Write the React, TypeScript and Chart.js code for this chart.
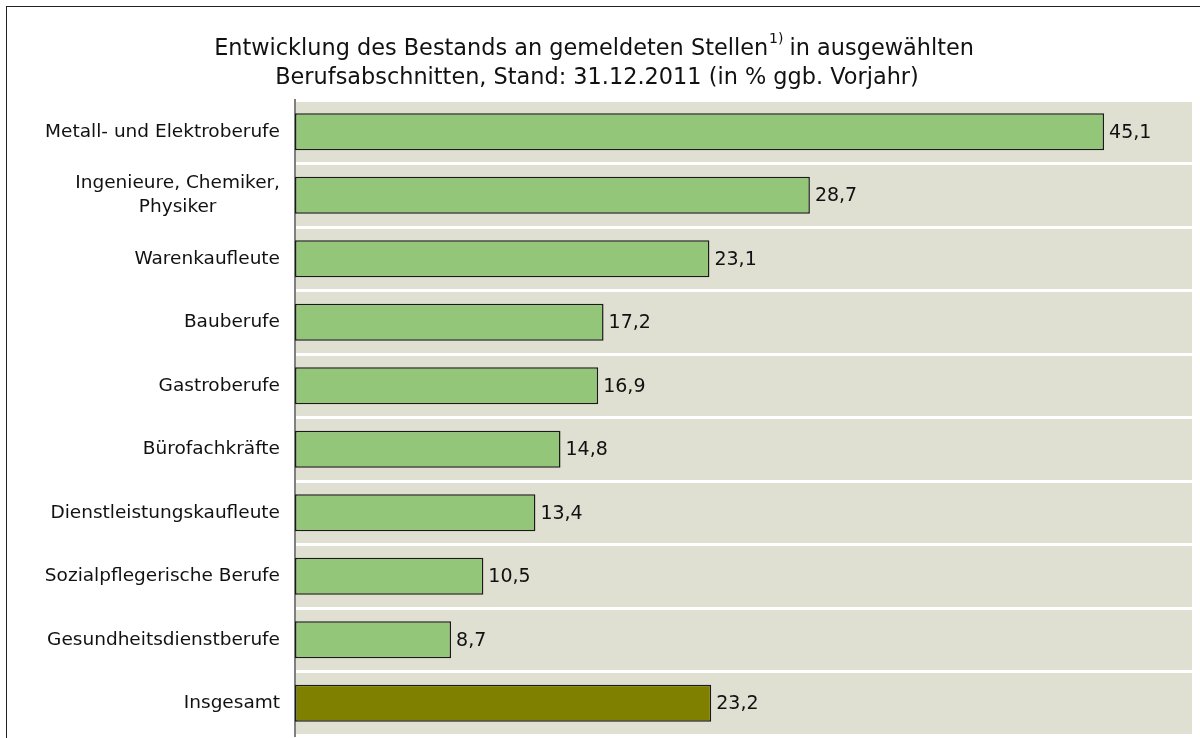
import React, { useEffect, useRef } from "react";
import { Chart, registerables } from "chart.js";

Chart.register(...registerables);

const categories: (string | string[])[] = [
  "Metall- und Elektroberufe",
  ["Ingenieure, Chemiker,", "Physiker"],
  "Warenkaufleute",
  "Bauberufe",
  "Gastroberufe",
  "Bürofachkräfte",
  "Dienstleistungskaufleute",
  "Sozialpflegerische Berufe",
  "Gesundheitsdienstberufe",
  "Insgesamt",
];
const values: number[] = [45.1, 28.7, 23.1, 17.2, 16.9, 14.8, 13.4, 10.5, 8.7, 23.2];
const titleLine1 = "Entwicklung des Bestands an gemeldeten Stellen";
const titleSup = "1)";
const titleLine1b = " in ausgewählten";
const titleLine2 = "Berufsabschnitten, Stand: 31.12.2011 (in % ggb. Vorjahr)";

const FONT = "'DejaVu Sans', 'Open Sans', sans-serif";
const GREEN = "#93c678";
const OLIVE = "#808000";
const BAND = "#e0e0d2";

const fmt = (v: number) => v.toFixed(1).replace(".", ",");

const bgPlugin = {
  id: "bandBg",
  beforeDraw(chart: any) {
    const { ctx, chartArea } = chart;
    ctx.save();
    ctx.fillStyle = "#ffffff";
    ctx.fillRect(0, 0, chart.width, chart.height);
    ctx.fillStyle = BAND;
    ctx.fillRect(chartArea.left, chartArea.top, chartArea.right - chartArea.left, chartArea.bottom - chartArea.top);
    ctx.restore();
  },
};

const textPlugin = {
  id: "texts",
  afterDraw(chart: any) {
    const { ctx, chartArea } = chart;
    const yScale = chart.scales.y;
    ctx.save();
    // title
    ctx.fillStyle = "#111";
    ctx.textBaseline = "alphabetic";
    const tf = `22.4px ${FONT}`;
    const sf = `14px ${FONT}`;
    ctx.font = tf;
    const w1 = ctx.measureText(titleLine1).width;
    const w3 = ctx.measureText(titleLine1b).width;
    ctx.font = sf;
    const w2 = ctx.measureText(titleSup).width;
    const cx = 594;
    let x = cx - (w1 + w2 + w3) / 2;
    ctx.textAlign = "left";
    ctx.font = tf;
    ctx.fillText(titleLine1, x, 55);
    ctx.font = sf;
    ctx.fillText(titleSup, x + w1 + 1, 43);
    ctx.font = tf;
    ctx.fillText(titleLine1b, x + w1 + w2, 55);
    ctx.textAlign = "center";
    ctx.fillText(titleLine2, 597, 84);

    // y labels
    ctx.font = `18.5px ${FONT}`;
    ctx.textBaseline = "middle";
    categories.forEach((lab, i) => {
      const y = yScale.getPixelForValue(i);
      const right = chartArea.left - 15;
      if (Array.isArray(lab)) {
        const widths = lab.map((l) => ctx.measureText(l).width);
        const maxW = Math.max(...widths);
        const c = right - maxW / 2;
        ctx.textAlign = "center";
        const lh = 24;
        lab.forEach((l, j) => {
          ctx.fillText(l, c, y + (j - (lab.length - 1) / 2) * lh);
        });
      } else {
        ctx.textAlign = "right";
        ctx.fillText(lab, right, y);
      }
    });

    // value labels
    const meta = chart.getDatasetMeta(0);
    ctx.font = `19px ${FONT}`;
    ctx.textAlign = "left";
    meta.data.forEach((bar: any, i: number) => {
      ctx.fillText(fmt(values[i]), bar.x + 5, bar.y + 1);
    });
    ctx.restore();
  },
};

export default function App() {
  const ref = useRef<HTMLCanvasElement | null>(null);
  useEffect(() => {
    if (!ref.current) return;
    const chart = new Chart(ref.current, {
      type: "bar",
      data: {
        labels: categories as any,
        datasets: [
          {
            data: values,
            backgroundColor: values.map((_, i) => (i === values.length - 1 ? OLIVE : GREEN)),
            borderColor: "#1a1a1a",
            borderWidth: 1.5,
            borderSkipped: false,
            barPercentage: 0.58,
            categoryPercentage: 1,
          },
        ],
      },
      options: {
        indexAxis: "y",
        animation: false,
        responsive: false,
        maintainAspectRatio: false,
        devicePixelRatio: 1,
        layout: { padding: { top: 100, bottom: 3, left: 0, right: 8 } },
        plugins: { legend: { display: false }, title: { display: false }, tooltip: { enabled: false } },
        scales: {
          x: { display: false, min: 0, max: 50 },
          y: {
            display: true,
            ticks: { display: false },
            grid: { display: true, color: "#ffffff", lineWidth: 3, drawTicks: false, offset: true },
            border: { display: true, color: "#808080", width: 2 },
            afterFit(scale: any) {
              scale.width = 295;
            },
          },
        },
      },
      plugins: [bgPlugin, textPlugin],
    });
    return () => chart.destroy();
  }, []);
  return (
    <div style={{ position: "fixed", left: 0, top: 0, width: 1200, height: 738, overflow: "hidden", background: "#fff" }}>
      <canvas ref={ref} width={1200} height={738} style={{ position: "absolute", left: 0, top: 0 }} />
      <div
        style={{
          position: "absolute",
          left: 6,
          top: 6,
          width: 1400,
          height: 900,
          border: "1.5px solid #222",
          pointerEvents: "none",
        }}
      />
    </div>
  );
}
